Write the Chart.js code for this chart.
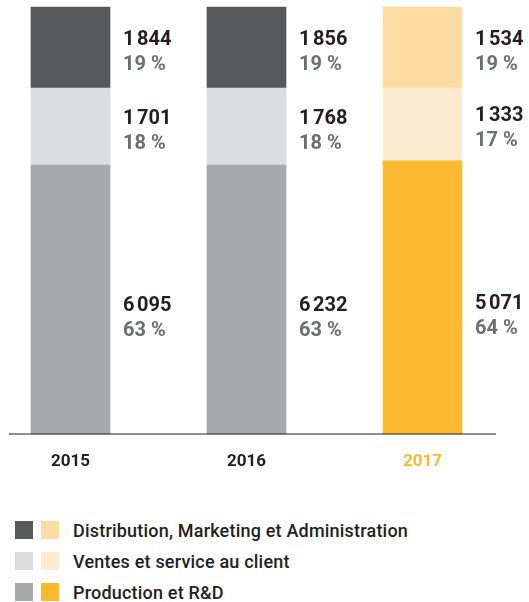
<!DOCTYPE html>
<html>
<head>
<meta charset="utf-8">
<script src="https://cdn.jsdelivr.net/npm/chart.js@4.4.1/dist/chart.umd.min.js"></script>
<style>
body{margin:0;background:#fff;font-family:Roboto,sans-serif;}
#wrap{position:relative;width:529px;height:602px;overflow:hidden;}
#chart{position:absolute;left:0;top:0;}
#legend{position:absolute;left:15px;top:521px;}
.row{display:flex;align-items:center;height:18px;margin-bottom:13px;}
.box{width:18px;height:18px;margin-right:8px;}
.row span{margin-left:6px;font-size:18px;font-weight:500;color:#231f20;white-space:nowrap;letter-spacing:0.2px;}
</style>
</head>
<body>
<div id="wrap">
<canvas id="chart" width="529" height="501"></canvas>
<div id="legend"></div>
</div>
<script>
// years on the x axis
const years = ['2015', '2016', '2017'];
// legend names, top of stack first
const seriesNames = ['Distribution, Marketing et Administration', 'Ventes et service au client', 'Production et R&D'];

// headcount per bar segment
const distribution = [1844, 1856, 1534];
const ventes = [1701, 1768, 1333];
const production = [6095, 6232, 5071];

// share of each bar (%)
const distributionPct = [19, 19, 19];
const ventesPct = [18, 18, 17];
const productionPct = [63, 63, 64];

// grey for past years, yellow for the current one
const greyColors = ['#58595b', '#dcdddf', '#a7a9ac'];
const yellowColors = ['#fedca4', '#feecd2', '#fbb930'];

function fmt(n) {
  return String(n).replace(/\B(?=(\d{3})+(?!\d))/g, '\u202F');
}

function barColors(k) { // k = index in greyColors/yellowColors
  return years.map((y, j) => j === years.length - 1 ? yellowColors[k] : greyColors[k]);
}

const baseLine = {
  id: 'baseLine',
  afterDatasetsDraw(chart) {
    const ctx = chart.ctx;
    const y = chart.chartArea.bottom;
    ctx.save();
    ctx.strokeStyle = '#231f20';
    ctx.lineWidth = 1.2;
    ctx.beginPath();
    ctx.moveTo(9, y);
    ctx.lineTo(496, y);
    ctx.stroke();
    ctx.restore();
  }
};

const valueLabels = {
  id: 'valueLabels',
  afterDatasetsDraw(chart) {
    const ctx = chart.ctx;
    ctx.save();
    ctx.font = 'bold 20px Roboto';
    ctx.textAlign = 'left';
    ctx.textBaseline = 'middle';
    chart.data.datasets.forEach((ds, i) => {
      chart.getDatasetMeta(i).data.forEach((bar, j) => {
        const x = bar.x + bar.width / 2 + 13;
        let mid = (bar.y + bar.base) / 2;
        if (i === 0) mid += 15; // production label sits lower
        ctx.fillStyle = '#231f20';
        ctx.fillText(fmt(ds.amounts[j]), x, mid - 8);
        ctx.fillStyle = '#6d6e71';
        ctx.fillText(ds.data[j] + ' %', x, mid + 17);
      });
    });
    ctx.restore();
  }
};

const chart = new Chart(document.getElementById('chart').getContext('2d'), {
  type: 'bar',
  data: {
    labels: years,
    datasets: [
      { label: seriesNames[2], data: productionPct, amounts: production, backgroundColor: barColors(2) },
      { label: seriesNames[1], data: ventesPct, amounts: ventes, backgroundColor: barColors(1) },
      { label: seriesNames[0], data: distributionPct, amounts: distribution, backgroundColor: barColors(0) }
    ]
  },
  options: {
    responsive: false,
    animation: false,
    datasets: { bar: { barThickness: 79, borderWidth: 0, clip: false } },
    layout: { padding: { top: 7, left: 70.5, right: 106.5, bottom: 10.6 } },
    plugins: { legend: { display: false }, tooltip: { enabled: false } },
    scales: {
      x: {
        stacked: true,
        offset: false,
        grid: { display: false, drawTicks: false },
        border: { display: false },
        ticks: {
          padding: 18,
          font: { family: 'Roboto', size: 17, weight: 'bold' },
          color: c => c.index === years.length - 1 ? '#fbb930' : '#231f20'
        }
      },
      y: { stacked: true, min: 0, max: 100, display: false }
    }
  },
  plugins: [baseLine, valueLabels]
});

// legend: grey and yellow swatch for each series
const legend = document.getElementById('legend');
seriesNames.forEach((name, k) => {
  const row = document.createElement('div');
  row.className = 'row';
  [greyColors[k], yellowColors[k]].forEach(c => {
    const b = document.createElement('div');
    b.className = 'box';
    b.style.background = c;
    row.appendChild(b);
  });
  const t = document.createElement('span');
  t.textContent = name;
  row.appendChild(t);
  legend.appendChild(row);
});
</script>
</body>
</html>
